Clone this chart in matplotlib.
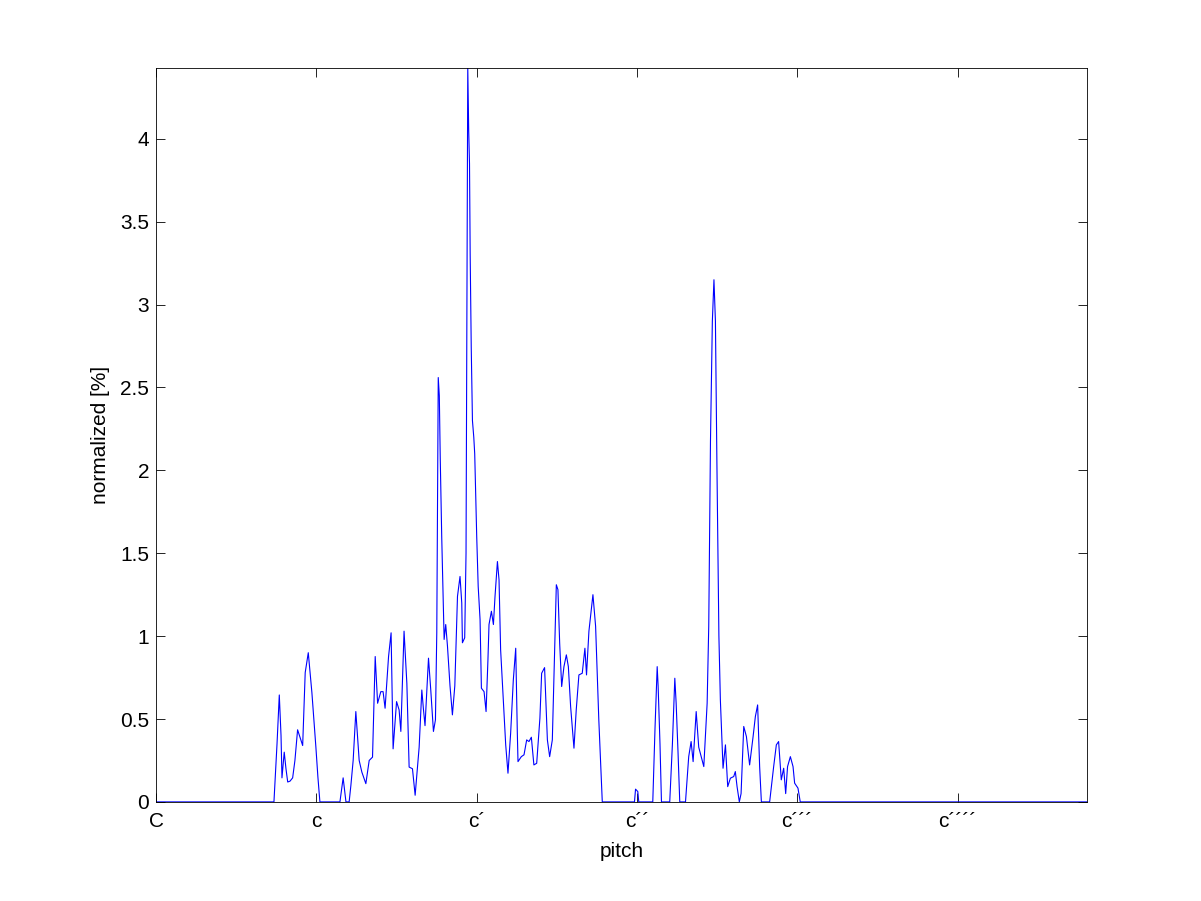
import matplotlib
matplotlib.use('Agg')
import matplotlib.pyplot as plt
import numpy as np

plt.rcParams['font.family'] = ['Liberation Sans', 'DejaVu Sans']

# pitch in semitones above C, normalized share in %
pitch = [0, 8.79, 8.82, 9.05, 9.22, 9.35, 9.42, 9.59, 9.72, 9.85, 10.02, 10.22, 10.39,
         10.59, 10.77, 10.97, 11.16, 11.39, 11.66, 11.96, 12.11, 12.26, 13.76, 14.00,
         14.21, 14.45, 14.58, 14.75, 14.95, 15.20, 15.40, 15.70, 15.95, 16.20, 16.40,
         16.58, 16.82, 16.99, 17.14, 17.40, 17.59, 17.74, 18.00, 18.19, 18.32, 18.56,
         18.77, 18.94, 19.19, 19.39, 19.69, 19.89, 20.01, 20.13, 20.39, 20.56, 20.76,
         20.91, 21.01, 21.12, 21.20, 21.27, 21.38, 21.50, 21.56, 21.68, 21.81, 22.00,
         22.18, 22.36, 22.56, 22.75, 22.88, 22.93, 23.10, 23.20, 23.25, 23.33, 23.40,
         23.46, 23.51, 23.59, 23.68, 23.78, 23.85, 24.00, 24.11, 24.25, 24.35, 24.55,
         24.70, 24.84, 24.92, 25.10, 25.25, 25.37, 25.55, 25.67, 25.79, 26.00, 26.17,
         26.34, 26.54, 26.74, 26.92, 27.04, 27.09, 27.34, 27.54, 27.74, 27.91, 28.09,
         28.28, 28.49, 28.73, 28.86, 29.08, 29.29, 29.46, 29.66, 29.78, 29.96, 30.08,
         30.21, 30.36, 30.53, 30.71, 30.86, 31.03, 31.28, 31.45, 31.65, 31.90, 32.10,
         32.22, 32.40, 32.70, 32.90, 33.14, 33.40, 35.81, 35.89, 36.06, 36.13, 37.18,
         37.35, 37.51, 37.58, 37.72, 37.83, 38.45, 38.65, 38.83, 38.93, 39.07, 39.20,
         39.63, 39.87, 40.05, 40.20, 40.43, 40.62, 41.00, 41.25, 41.37, 41.50, 41.64,
         41.76, 41.87, 41.98, 42.13, 42.24, 42.44, 42.62, 42.79, 42.99, 43.24, 43.36,
         43.49, 43.66, 43.79, 43.99, 44.19, 44.43, 44.69, 44.86, 45.03, 45.18, 45.31,
         45.93, 46.23, 46.43, 46.60, 46.80, 46.98, 47.13, 47.27, 47.48, 47.68, 47.80,
         48.05, 48.22, 69.68]
share = [0, 0, 0, 0.35, 0.645, 0.40, 0.145, 0.30, 0.20, 0.12, 0.125, 0.145, 0.25,
         0.435, 0.39, 0.34, 0.78, 0.90, 0.66, 0.33, 0.15, 0, 0, 0.145,
         0, 0, 0.10, 0.25, 0.545, 0.25, 0.18, 0.11, 0.25, 0.27, 0.877,
         0.595, 0.665, 0.665, 0.565, 0.877, 1.02, 0.32, 0.605, 0.555, 0.425, 1.03,
         0.715, 0.21, 0.20, 0.04, 0.33, 0.675, 0.56, 0.46, 0.867, 0.675, 0.425,
         0.495, 1.02, 2.56, 2.45, 2.07, 1.60, 1.17, 0.98, 1.07, 0.94, 0.70,
         0.525, 0.70, 1.24, 1.36, 1.20, 0.96, 0.99, 1.50, 2.70, 4.43, 4.05,
         3.85, 3.30, 2.74, 2.30, 2.20, 2.10, 1.60, 1.30, 1.10, 0.686, 0.665,
         0.545, 0.857, 1.07, 1.15, 1.07, 1.24, 1.45, 1.34, 0.917, 0.595, 0.344,
         0.173, 0.415, 0.736, 0.927, 0.415, 0.243, 0.273, 0.284, 0.374, 0.364, 0.39,
         0.223, 0.233, 0.505, 0.776, 0.81, 0.374, 0.273, 0.374, 0.756, 1.31, 1.28,
         0.957, 0.696, 0.816, 0.887, 0.816, 0.575, 0.324, 0.555, 0.766, 0.776, 0.927,
         0.766, 1.03, 1.25, 1.06, 0.495, 0, 0, 0.077, 0.062, 0, 0,
         0.45, 0.816, 0.70, 0.35, 0, 0, 0.35, 0.746, 0.595, 0.30, 0,
         0, 0.273, 0.364, 0.243, 0.545, 0.33, 0.213, 0.595, 1.06, 2.18, 2.90,
         3.15, 2.90, 2.05, 1.00, 0.615, 0.203, 0.344, 0.092, 0.143, 0.153, 0.183,
         0.092, 0, 0.05, 0.455, 0.394, 0.223, 0.394, 0.515, 0.585, 0.213, 0,
         0, 0.213, 0.344, 0.364, 0.133, 0.203, 0.05, 0.213, 0.273, 0.213, 0.113,
         0.083, 0, 0]

octave_pos = [0, 12, 24, 36, 48, 60]
octave_names = ['C', 'c', 'c\u00b4', 'c\u00b4\u00b4', 'c\u00b4\u00b4\u00b4', 'c\u00b4\u00b4\u00b4\u00b4']
yticks = [0, 0.5, 1, 1.5, 2, 2.5, 3, 3.5, 4]

fig = plt.figure(figsize=(12.01, 9.01), dpi=100)
ax = fig.add_axes([0.13, 0.11, 0.775, 0.815])
ax.plot(pitch, share, color=(0, 0, 1), lw=0.8)

ax.set_xlim(0, max(pitch))
ax.set_ylim(0, max(share))
ax.set_xticks(octave_pos)
ax.set_xticklabels(octave_names)
ax.set_yticks(yticks)
ax.set_yticklabels(['%g' % v for v in yticks])
ax.tick_params(direction='in', length=6.5, width=0.6, top=True, right=True,
               labelsize=15, pad=5)
ax.tick_params(axis='x', pad=7)
for s in ax.spines.values():
    s.set_linewidth(0.6)

ax.set_xlabel('pitch', fontsize=15, labelpad=8)
ax.set_ylabel('normalized [%]', fontsize=15, labelpad=7)

fig.savefig('out.png', dpi=100)
